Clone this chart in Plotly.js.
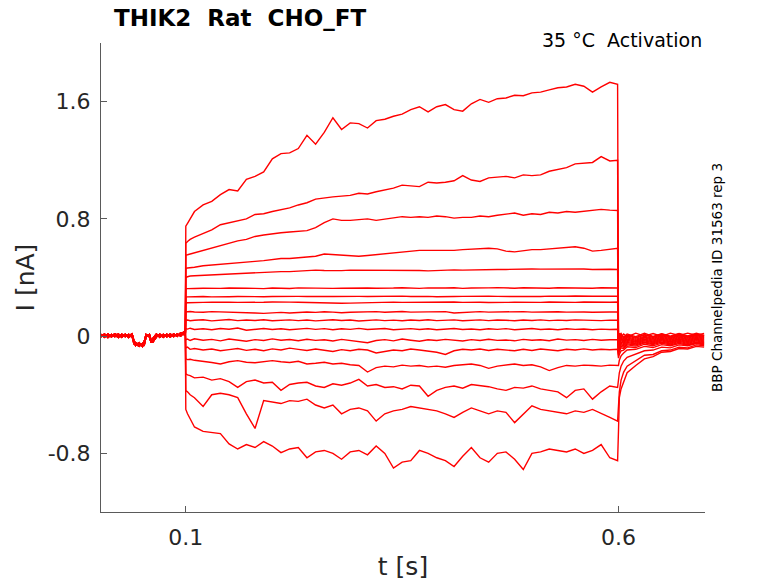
<!DOCTYPE html>
<html>
<head>
<meta charset="utf-8">
<script src="https://cdn.plot.ly/plotly-3.0.1.min.js"></script>
<style>html,body{margin:0;padding:0;background:#fff;}#chart{width:778px;height:583px;}</style>
</head>
<body>
<div id="chart"></div>
<script>
// ---- time grids (s) ----
var tBase = [0.002,0.006,0.010,0.014,0.018,0.022,0.026,0.030,0.034,0.038,0.040,0.042,0.046,0.050,0.052,0.054,0.058,0.060,0.062,0.066,0.070,0.074,0.078,0.082,0.086,0.090,0.094,0.098,0.0995];
var tStep = [0.100,0.102,0.105,0.110,0.120,0.130,0.140,0.150,0.160,0.170,
             0.180,0.190,0.200,0.210,0.220,0.230,0.240,0.250,0.260,0.270,
             0.280,0.290,0.300,0.310,0.320,0.330,0.340,0.350,0.360,0.370,
             0.380,0.390,0.400,0.410,0.420,0.430,0.440,0.450,0.460,0.470,
             0.480,0.490,0.500,0.510,0.520,0.530,0.540,0.550,0.560,0.570,
             0.580,0.590,0.599];
var tTail = [0.600,0.601,0.603,0.606,0.610,0.620,0.630,0.640,0.650,0.660,0.670,0.680,0.690,0.699];

// ---- holding current before the step (nA), three sweeps' versions ----
var baseA = [0.012,-0.008,0.015,-0.005,0.010,-0.010,0.014,-0.004,0.012,-0.006,-0.040,-0.065,-0.045,-0.070,-0.040,0.012,-0.006,-0.045,-0.015,0.014,-0.008,0.012,-0.005,0.015,-0.004,0.016,0.000,0.025,0.008];
var baseB = [-0.006,0.014,-0.010,0.012,-0.004,0.015,-0.008,0.013,-0.010,0.012,-0.030,-0.050,-0.070,-0.050,-0.060,-0.006,0.012,-0.030,-0.040,-0.006,0.014,-0.008,0.013,-0.006,0.015,-0.002,0.022,0.010,0.020];
var baseC = [0.004,0.000,0.008,0.002,0.016,0.003,-0.004,0.006,0.002,0.016,-0.055,-0.045,-0.060,-0.055,-0.035,0.004,0.006,-0.040,-0.025,0.006,0.004,0.000,0.008,0.006,0.008,0.006,0.012,0.030,0.014];

// ---- currents during the step (nA) ----
var s1 = [0.75,0.77,0.80,0.85,0.895,0.92,0.965,1.00,0.99,1.07,
          1.09,1.12,1.21,1.245,1.25,1.28,1.37,1.31,1.39,1.49,
          1.41,1.455,1.45,1.42,1.47,1.48,1.50,1.515,1.545,1.565,
          1.53,1.565,1.58,1.545,1.535,1.585,1.615,1.595,1.62,1.625,
          1.643,1.64,1.66,1.665,1.68,1.695,1.70,1.718,1.705,1.665,
          1.70,1.732,1.718];
var s2 = [0.633,0.645,0.66,0.675,0.70,0.725,0.76,0.775,0.79,0.80,
          0.83,0.835,0.85,0.86,0.875,0.895,0.91,0.935,0.945,0.95,
          0.955,0.96,0.975,0.97,0.985,0.995,1.01,1.03,1.025,1.02,
          1.05,1.045,1.05,1.06,1.095,1.065,1.055,1.08,1.085,1.09,
          1.08,1.10,1.095,1.10,1.125,1.14,1.15,1.175,1.18,1.185,
          1.225,1.195,1.20];
var s3 = [0.553,0.555,0.56,0.57,0.585,0.60,0.615,0.635,0.65,0.66,
          0.68,0.69,0.70,0.705,0.71,0.715,0.72,0.74,0.775,0.80,
          0.79,0.79,0.795,0.80,0.79,0.80,0.805,0.815,0.81,0.815,
          0.81,0.82,0.815,0.805,0.81,0.81,0.82,0.815,0.825,0.83,
          0.84,0.825,0.835,0.83,0.845,0.84,0.85,0.845,0.85,0.855,
          0.865,0.86,0.857];
var s4 = [0.462,0.465,0.465,0.47,0.48,0.485,0.49,0.495,0.505,0.505,
          0.51,0.515,0.525,0.53,0.53,0.535,0.54,0.545,0.56,0.555,
          0.55,0.545,0.545,0.55,0.555,0.56,0.565,0.575,0.58,0.585,
          0.585,0.585,0.58,0.585,0.59,0.595,0.60,0.60,0.595,0.58,
          0.575,0.585,0.59,0.59,0.595,0.595,0.605,0.61,0.60,0.58,
          0.585,0.595,0.60];
var s5 = [0.40,0.405,0.41,0.412,0.415,0.418,0.42,0.425,0.43,0.43,
          0.435,0.435,0.44,0.44,0.44,0.445,0.445,0.45,0.448,0.445,
          0.447,0.45,0.45,0.448,0.452,0.45,0.45,0.452,0.45,0.448,
          0.445,0.448,0.45,0.452,0.45,0.452,0.455,0.453,0.455,0.455,
          0.457,0.455,0.458,0.457,0.458,0.456,0.458,0.457,0.458,0.455,
          0.457,0.456,0.455];
var s6 = [0.322,0.324,0.326,0.325,0.327,0.324,0.326,0.328,0.325,0.327,
          0.326,0.324,0.328,0.326,0.325,0.329,0.327,0.325,0.328,0.326,
          0.327,0.329,0.326,0.328,0.327,0.325,0.328,0.330,0.327,0.326,
          0.329,0.327,0.328,0.330,0.326,0.328,0.327,0.329,0.331,0.328,
          0.327,0.330,0.328,0.329,0.327,0.330,0.328,0.331,0.329,0.327,
          0.330,0.329,0.328];
var s7 = [0.267,0.268,0.269,0.268,0.270,0.268,0.271,0.269,0.270,0.268,
          0.271,0.269,0.270,0.272,0.269,0.271,0.270,0.268,0.271,0.270,
          0.272,0.269,0.271,0.270,0.272,0.270,0.271,0.273,0.270,0.272,
          0.271,0.269,0.272,0.270,0.271,0.273,0.270,0.272,0.271,0.270,
          0.273,0.271,0.272,0.270,0.273,0.271,0.272,0.274,0.271,0.272,
          0.273,0.271,0.272];
var s8 = [0.226,0.228,0.229,0.228,0.230,0.232,0.229,0.231,0.230,0.232,
          0.229,0.231,0.233,0.230,0.232,0.231,0.229,0.232,0.230,0.226,
          0.224,0.225,0.227,0.229,0.231,0.229,0.232,0.230,0.231,0.229,
          0.232,0.230,0.231,0.233,0.230,0.232,0.231,0.229,0.232,0.230,
          0.231,0.229,0.232,0.230,0.233,0.231,0.232,0.230,0.233,0.231,
          0.232,0.231,0.233];
var s9 = [0.164,0.166,0.168,0.165,0.163,0.167,0.165,0.168,0.164,0.160,
          0.158,0.155,0.160,0.162,0.158,0.163,0.165,0.162,0.166,0.164,
          0.160,0.163,0.166,0.164,0.167,0.163,0.165,0.168,0.164,0.166,
          0.163,0.165,0.167,0.158,0.162,0.165,0.167,0.164,0.166,0.163,
          0.165,0.167,0.164,0.166,0.163,0.166,0.164,0.167,0.165,0.163,
          0.166,0.165,0.165];
var s10 = [0.108,0.110,0.105,0.108,0.112,0.104,0.109,0.113,0.106,0.110,
           0.107,0.112,0.105,0.109,0.111,0.106,0.110,0.104,0.108,0.112,
           0.107,0.110,0.103,0.108,0.111,0.106,0.109,0.105,0.110,0.107,
           0.112,0.106,0.109,0.111,0.105,0.108,0.111,0.106,0.110,0.108,
           0.105,0.110,0.107,0.111,0.106,0.109,0.107,0.111,0.108,0.110,
           0.106,0.109,0.108];
var s11 = [0.051,0.048,0.054,0.045,0.050,0.044,0.052,0.047,0.055,0.040,
           0.046,0.052,0.045,0.050,0.043,0.049,0.053,0.046,0.051,0.044,
           0.050,0.046,0.053,0.045,0.049,0.052,0.044,0.048,0.051,0.045,
           0.050,0.043,0.048,0.052,0.045,0.049,0.044,0.050,0.046,0.051,
           0.044,0.048,0.052,0.045,0.049,0.043,0.050,0.046,0.049,0.044,
           0.048,0.045,0.047];
var s12 = [-0.025,-0.020,-0.030,-0.018,-0.028,-0.022,-0.032,-0.020,-0.027,-0.035,
           -0.024,-0.030,-0.019,-0.028,-0.023,-0.031,-0.021,-0.029,-0.025,-0.033,
           -0.022,-0.028,-0.035,-0.045,-0.030,-0.024,-0.032,-0.020,-0.028,-0.035,
           -0.025,-0.030,-0.022,-0.028,-0.033,-0.024,-0.030,-0.021,-0.029,-0.026,
           -0.032,-0.022,-0.028,-0.025,-0.031,-0.020,-0.027,-0.024,-0.030,-0.022,
           -0.028,-0.025,-0.024];
var s13 = [-0.080,-0.075,-0.090,-0.085,-0.095,-0.088,-0.100,-0.092,-0.085,-0.097,
           -0.090,-0.100,-0.087,-0.095,-0.082,-0.090,-0.098,-0.088,-0.095,-0.105,
           -0.092,-0.100,-0.090,-0.095,-0.115,-0.105,-0.095,-0.100,-0.088,-0.095,
           -0.100,-0.110,-0.125,-0.100,-0.090,-0.095,-0.088,-0.098,-0.090,-0.095,
           -0.100,-0.090,-0.098,-0.088,-0.093,-0.100,-0.090,-0.095,-0.087,-0.095,
           -0.090,-0.093,-0.090];
var s14 = [-0.155,-0.160,-0.158,-0.165,-0.170,-0.180,-0.190,-0.175,-0.167,-0.178,
           -0.182,-0.172,-0.167,-0.175,-0.180,-0.172,-0.190,-0.185,-0.178,-0.190,
           -0.185,-0.195,-0.200,-0.245,-0.215,-0.205,-0.210,-0.198,-0.205,-0.200,
           -0.210,-0.205,-0.212,-0.200,-0.195,-0.190,-0.200,-0.220,-0.205,-0.198,
           -0.190,-0.200,-0.195,-0.210,-0.235,-0.215,-0.200,-0.205,-0.198,-0.200,
           -0.205,-0.198,-0.200];
var s15 = [-0.258,-0.265,-0.270,-0.285,-0.280,-0.300,-0.290,-0.310,-0.350,-0.310,
           -0.300,-0.320,-0.315,-0.370,-0.330,-0.320,-0.315,-0.340,-0.350,-0.325,
           -0.335,-0.320,-0.295,-0.340,-0.330,-0.350,-0.345,-0.360,-0.335,-0.340,
           -0.410,-0.370,-0.350,-0.340,-0.355,-0.330,-0.335,-0.345,-0.360,-0.370,
           -0.350,-0.355,-0.340,-0.360,-0.370,-0.380,-0.420,-0.370,-0.360,-0.430,
           -0.380,-0.340,-0.350];
var s16 = [-0.372,-0.380,-0.400,-0.420,-0.480,-0.400,-0.390,-0.400,-0.420,-0.530,
           -0.630,-0.440,-0.450,-0.460,-0.440,-0.445,-0.430,-0.470,-0.490,-0.470,
           -0.530,-0.500,-0.490,-0.510,-0.580,-0.530,-0.510,-0.500,-0.480,-0.490,
           -0.500,-0.510,-0.530,-0.555,-0.520,-0.490,-0.510,-0.530,-0.510,-0.520,
           -0.590,-0.530,-0.475,-0.500,-0.510,-0.520,-0.530,-0.510,-0.520,-0.500,
           -0.530,-0.555,-0.580];
var s17 = [-0.500,-0.530,-0.560,-0.620,-0.650,-0.660,-0.665,-0.735,-0.770,-0.740,
           -0.760,-0.720,-0.750,-0.795,-0.770,-0.760,-0.830,-0.790,-0.780,-0.800,
           -0.840,-0.790,-0.780,-0.810,-0.750,-0.800,-0.900,-0.860,-0.850,-0.780,
           -0.800,-0.830,-0.850,-0.890,-0.820,-0.760,-0.830,-0.860,-0.800,-0.790,
           -0.840,-0.910,-0.800,-0.790,-0.770,-0.780,-0.790,-0.770,-0.800,-0.780,
           -0.740,-0.830,-0.850];

// ---- tail currents after the step (nA) ----
var r1  = [-0.02,0.020,-0.010,0.015,-0.005,0.020,0.000,0.018,-0.002,0.020,0.004,0.020,0.006,0.018];
var r2  = [-0.03,0.005,0.018,-0.008,0.015,-0.004,0.020,-0.002,0.016,0.000,0.018,0.002,0.020,0.004];
var r3  = [-0.04,-0.015,0.010,-0.012,0.008,-0.010,0.012,-0.006,0.014,-0.004,0.016,-0.002,0.012,0.000];
var r4  = [-0.05,-0.025,-0.005,-0.020,0.004,-0.015,0.008,-0.010,0.010,-0.006,0.012,-0.004,0.010,0.002];
var r5  = [-0.06,-0.035,-0.015,-0.030,-0.005,-0.022,0.000,-0.016,0.004,-0.012,0.006,-0.008,0.008,-0.004];
var r6  = [-0.07,-0.045,-0.020,-0.035,-0.012,-0.030,-0.006,-0.022,-0.002,-0.018,0.002,-0.014,0.004,-0.010];
var r7  = [-0.08,-0.055,-0.030,-0.042,-0.020,-0.036,-0.012,-0.028,-0.008,-0.024,-0.004,-0.020,-0.002,-0.016];
var r8  = [-0.09,-0.065,-0.040,-0.050,-0.028,-0.042,-0.020,-0.034,-0.014,-0.030,-0.010,-0.026,-0.008,-0.022];
var r9  = [-0.10,-0.075,-0.050,-0.058,-0.036,-0.048,-0.026,-0.040,-0.020,-0.036,-0.016,-0.032,-0.014,-0.028];
var r10 = [-0.11,-0.085,-0.060,-0.066,-0.044,-0.054,-0.032,-0.046,-0.026,-0.042,-0.022,-0.038,-0.020,-0.034];
var r11 = [-0.12,-0.095,-0.070,-0.075,-0.052,-0.060,-0.040,-0.052,-0.032,-0.048,-0.028,-0.044,-0.026,-0.040];
var r12 = [-0.13,-0.105,-0.080,-0.085,-0.060,-0.068,-0.046,-0.058,-0.040,-0.054,-0.034,-0.050,-0.032,-0.046];
var r13 = [-0.15,-0.125,-0.100,-0.095,-0.072,-0.078,-0.055,-0.066,-0.048,-0.060,-0.042,-0.056,-0.040,-0.050];
var r14 = [-0.20,-0.165,-0.135,-0.115,-0.095,-0.090,-0.070,-0.078,-0.058,-0.066,-0.050,-0.060,-0.045,-0.055];
var r15 = [-0.30,-0.250,-0.205,-0.170,-0.145,-0.120,-0.100,-0.095,-0.075,-0.080,-0.060,-0.066,-0.050,-0.060];
var r16 = [-0.45,-0.380,-0.300,-0.245,-0.205,-0.170,-0.130,-0.125,-0.100,-0.095,-0.075,-0.080,-0.060,-0.066];
var r17 = [-0.65,-0.420,-0.360,-0.310,-0.250,-0.200,-0.155,-0.140,-0.110,-0.105,-0.085,-0.088,-0.070,-0.075];

// ---- tick labels ----
var xTickVals = [0.1, 0.6];
var xTickText = ["0.1", "0.6"];
var yTickVals = [-0.8, 0, 0.8, 1.6];
var yTickText = ["-0.8", "0", "0.8", "1.6"];

var steps = [s1,s2,s3,s4,s5,s6,s7,s8,s9,s10,s11,s12,s13,s14,s15,s16,s17];
var tails = [r1,r2,r3,r4,r5,r6,r7,r8,r9,r10,r11,r12,r13,r14,r15,r16,r17];
var bases = [baseA, baseB, baseC];

var xAll = tBase.concat(tStep, tTail);
var traces = [];
for (var i = 0; i < steps.length; i++) {
  traces.push({
    type: 'scatter', mode: 'lines',
    x: xAll,
    y: bases[i % 3].concat(steps[i], tails[i]),
    line: {color: '#ff0000', width: 1.4},
    hoverinfo: 'skip'
  });
}

var FONT = 'DejaVu Sans, Liberation Sans, sans-serif';
var axisCommon = {
  showline: true, linecolor: '#5a5a5a', linewidth: 1,
  ticks: 'inside', ticklen: 6, tickcolor: '#5a5a5a', tickwidth: 1,
  showgrid: false, zeroline: false, mirror: false,
  tickfont: {family: FONT, size: 22, color: '#262626'},
  tickmode: 'array', fixedrange: true
};

var layout = {
  width: 778, height: 583,
  margin: {l: 101, r: 73, t: 43, b: 71},
  paper_bgcolor: '#ffffff', plot_bgcolor: '#ffffff',
  showlegend: false,
  title: {
    text: '<b>THIK2\u00a0\u00a0Rat\u00a0\u00a0CHO_FT</b>',
    font: {family: FONT, size: 23, color: '#000000'},
    x: 114/778, xref: 'container', xanchor: 'left',
    y: 1 - 18/583, yref: 'container', yanchor: 'middle'
  },
  xaxis: Object.assign({}, axisCommon, {
    range: [0.002, 0.7],
    tickvals: xTickVals, ticktext: xTickText,
    ticklabelstandoff: 6,
    title: {text: 't [s]', font: {family: FONT, size: 25, color: '#262626'}, standoff: 8}
  }),
  yaxis: Object.assign({}, axisCommon, {
    range: [-1.2, 2.0],
    tickvals: yTickVals, ticktext: yTickText,
    ticklabelstandoff: 5,
    title: {text: 'I [nA]', font: {family: FONT, size: 25, color: '#262626'}, standoff: 5}
  }),
  annotations: [
    {
      text: '35 °C\u00a0\u00a0Activation',
      xref: 'paper', yref: 'paper',
      x: (704-101)/604, xanchor: 'right',
      y: 1 + 3/469, yanchor: 'middle',
      showarrow: false,
      font: {family: FONT, size: 19, color: '#000000'}
    },
    {
      text: 'BBP Channelpedia ID 31563 rep 3',
      xref: 'paper', yref: 'paper',
      x: (717-101)/604, xanchor: 'center',
      y: 1 - (278-43)/469, yanchor: 'middle',
      textangle: -90,
      showarrow: false,
      font: {family: FONT, size: 13.5, color: '#000000'}
    }
  ]
};

Plotly.newPlot('chart', traces, layout, {displayModeBar: false, staticPlot: true});
</script>
</body>
</html>
